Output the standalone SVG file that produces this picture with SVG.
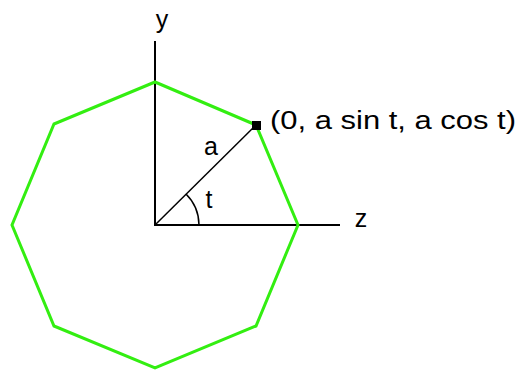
<svg xmlns="http://www.w3.org/2000/svg" width="520" height="372" viewBox="0 0 520 372">
<style>
.axis{stroke:#000;stroke-width:2;fill:none}
.thin{stroke:#000;stroke-width:1.5;fill:none}
.oct{stroke:#33ee11;stroke-width:3;fill:none;stroke-linejoin:miter}
.lbl{font-family:"Liberation Sans",Arial,sans-serif;font-size:25px;fill:#000}
</style>
<rect width="520" height="372" fill="#fff"/>
<g id="connectors">
<path class="axis" d="M155,41 V225 H340"/>
<path class="thin" d="M155,225 L256,125"/>
<path class="thin" d="M199,225 A44,44 0 0 0 186,194"/>
</g>
<g id="octagon">
<polygon class="oct" points="155,82 256,125 298,225 256,326 155,368 54,326 12,225 54,124"/>
</g>
<g id="point">
<rect x="252" y="121" width="9" height="9" fill="#000"/>
<text class="lbl" x="270" y="129" textLength="246" lengthAdjust="spacingAndGlyphs">(0, a sin t, a cos t)</text>
</g>
<g id="labels">
<text class="lbl" x="162" y="28" text-anchor="middle">y</text>
<text class="lbl" x="361" y="227" text-anchor="middle">z</text>
<text class="lbl" x="211" y="155" text-anchor="middle">a</text>
<text class="lbl" x="209" y="208" text-anchor="middle">t</text>
</g>
</svg>
